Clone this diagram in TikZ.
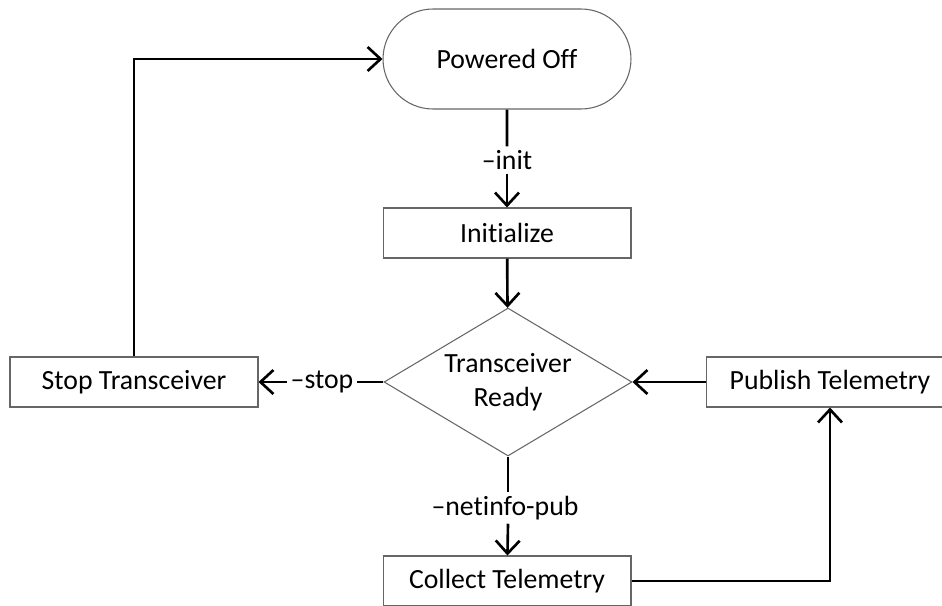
\documentclass[tikz,border=0pt]{standalone}
\usepackage{fontspec}
\setmainfont{Carlito}[Ligatures = {TeX, NoCommon}]
\usetikzlibrary{arrows.meta, shapes.geometric, shapes.misc}

\begin{document}
\begin{tikzpicture}[x = 0.02cm, y = -0.02cm,
    font = \fontsize{15.8}{19}\selectfont,
    box/.style = {draw = black!60, line width = 0.6pt, fill = white,
                  minimum width = 4.96cm, minimum height = 1cm, inner sep = 0pt},
    terminal/.style = {rounded rectangle, draw = black!60, line width = 0.6pt,
                  minimum width = 4.96cm, minimum height = 2cm, inner sep = 0pt},
    decision/.style = {diamond, draw = black!60, line width = 0.6pt,
                  minimum width = 4.96cm, minimum height = 2.96cm,
                  aspect = 1.676, inner sep = 0pt, align = center},
    edgelabel/.style = {fill = white, inner sep = 2pt},
    link/.style = {line width = 1.5pt},
    flow/.style = {link, -{Straight Barb[length = 2.6mm, width = 4.8mm]}}]
\useasboundingbox (0, 0) rectangle (942, 605);

\node[terminal] (off) at (507, 59) {Powered Off};
\node[box] (init) at (507, 233) {Initialize};
\node[decision] (ready) at (508, 382) {Transceiver\\Ready};
\node[box] (stop) at (134, 382) {Stop Transceiver};
\node[box] (publish) at (830, 382) {Publish Telemetry};
\node[box] (collect) at (507, 581) {Collect Telemetry};

% labels sitting on the connectors
\node[edgelabel] (initlbl) at (507, 160) {--init};
\node[edgelabel] (stoplbl) at (322, 382) {--stop};
\node[edgelabel] (publbl) at (505, 508) {--netinfo-pub};

\draw[link] (off) -- (initlbl);
\draw[flow] (initlbl) -- (init);
\draw[flow] (init) -- (ready);
\draw[link] (ready) -- (stoplbl);
\draw[flow] (stoplbl) -- (stop);
\draw[flow] (publish) -- (ready);
\draw[link] (ready.south) -- (ready.south |- publbl.north);
\draw[flow] (ready.south |- publbl.south) -- (collect);
\draw[flow] (collect) -| (publish);
\draw[flow] (stop) |- (off);
\end{tikzpicture}
\end{document}
